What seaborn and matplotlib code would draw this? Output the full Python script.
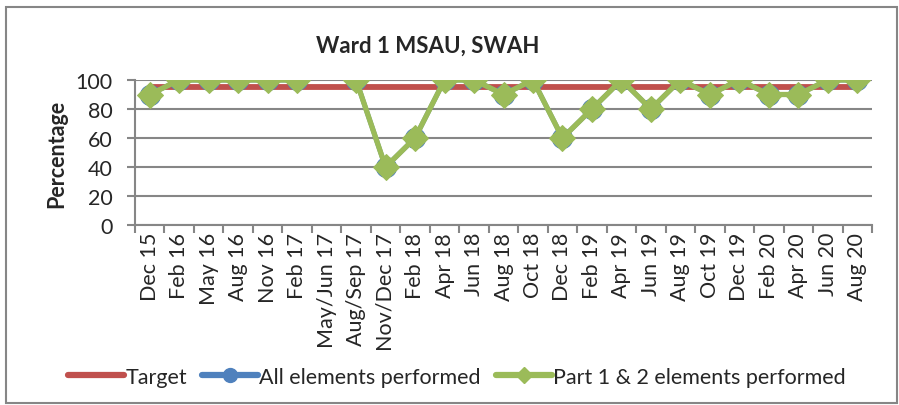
import numpy as np
import pandas as pd
import seaborn as sns
from matplotlib import pyplot as plt
from matplotlib.lines import Line2D
from matplotlib.patches import Rectangle
from matplotlib.ticker import FixedLocator

categories = ['Dec 15', 'Feb 16', 'May 16', 'Aug 16', 'Nov 16', 'Feb 17',
              'May/Jun 17', 'Aug/Sep 17', 'Nov/Dec 17', 'Feb 18', 'Apr 18',
              'Jun 18', 'Aug 18', 'Oct 18', 'Dec 18', 'Feb 19', 'Apr 19',
              'Jun 19', 'Aug 19', 'Oct 19', 'Dec 19', 'Feb 20', 'Apr 20',
              'Jun 20', 'Aug 20']
target = [95] * len(categories)
all_elements = [90, 100, 100, 100, 100, 100, np.nan, 100, 40, 60, 100,
                100, 90, 100, 60, 80, 100, 80, 100, 90, 100, 90, 90,
                100, 100]
part_1_2 = [90, 100, 100, 100, 100, 100, np.nan, 100, 40, 60, 100,
            100, 90, 100, 60, 80, 100, 80, 100, 90, 100, 90, 90,
            100, 100]

red = '#C0504D'
blue = '#4F81BD'
green = '#9BBB59'
grey = '#868686'

sns.set_style('white')
plt.rcParams['font.family'] = ['Lato', 'DejaVu Sans']

df = pd.DataFrame({'pos': np.arange(len(categories)), 'cat': categories,
                   'target': target, 'all': all_elements, 'part': part_1_2})
# segment id so the line breaks at the missing month
df['seg'] = df['all'].isna().cumsum()
df_pts = df.dropna()

fig = plt.figure(figsize=(8.99, 4.06), dpi=100)
ax = fig.add_axes([135 / 899, 1 - 226 / 406, (872 - 135) / 899, (226 - 81) / 406])

sns.lineplot(data=df, x='pos', y='target', color=red, linewidth=4.2, ax=ax,
             estimator=None, zorder=2)
sns.lineplot(data=df_pts, x='pos', y='all', units='seg', estimator=None,
             color=blue, linewidth=3.5, marker='o', markersize=14.5,
             markeredgecolor=blue, ax=ax, zorder=3)
sns.lineplot(data=df_pts, x='pos', y='part', units='seg', estimator=None,
             color=green, linewidth=3.8, marker='D', markersize=13.5,
             markeredgecolor=green, ax=ax, zorder=4)

ax.set_xlim(-0.5, len(categories) - 0.5)
ax.set_ylim(0, 100)
ax.set_yticks(range(0, 101, 20))
ax.xaxis.set_major_locator(FixedLocator(np.arange(-0.5, len(categories), 1)))
ax.xaxis.set_minor_locator(FixedLocator(np.arange(len(categories))))
ax.set_xticklabels([])
ax.set_xticklabels(categories, minor=True, rotation=90)
ax.tick_params(axis='x', which='major', direction='out', length=6, width=1.5,
               color=grey, bottom=True)
ax.tick_params(axis='x', which='minor', length=0, labelsize=15.5, pad=5)
ax.tick_params(axis='y', direction='out', length=6, width=1.5, color=grey,
               labelsize=15.5, left=True, pad=10)
ax.grid(axis='y', color=grey, linewidth=1.5)
ax.set_axisbelow(True)
for side in ['top', 'right']:
    ax.spines[side].set_visible(False)
for side in ['left', 'bottom']:
    ax.spines[side].set_color(grey)
    ax.spines[side].set_linewidth(1.5)
ax.set_xlabel('')
ax.set_ylabel('Percentage', fontsize=15.5, fontweight='bold', labelpad=6)

fig.text(428 / 899, 1 - 46 / 406, 'Ward 1 MSAU, SWAH', ha='center',
         va='center', fontsize=16, fontweight='bold')

handles = [Line2D([], [], color=red, linewidth=4.5),
           Line2D([], [], color=blue, linewidth=4.5, marker='o', markersize=10),
           Line2D([], [], color=green, linewidth=4.5, marker='D', markersize=8)]
fig.legend(handles, ['Target', 'All elements performed', 'Part 1 & 2 elements performed'],
           loc='center', bbox_to_anchor=(457 / 899, 1 - 378 / 406), ncol=3,
           frameon=False, fontsize=15.5, handlelength=2.6, handletextpad=0.05,
           columnspacing=0.7)

fig.patches.append(Rectangle((6 / 899, 2 / 406), 891 / 899, 396 / 406,
                             transform=fig.transFigure, fill=False,
                             edgecolor=grey, linewidth=1.5))

plt.savefig('out.png', dpi=100)
